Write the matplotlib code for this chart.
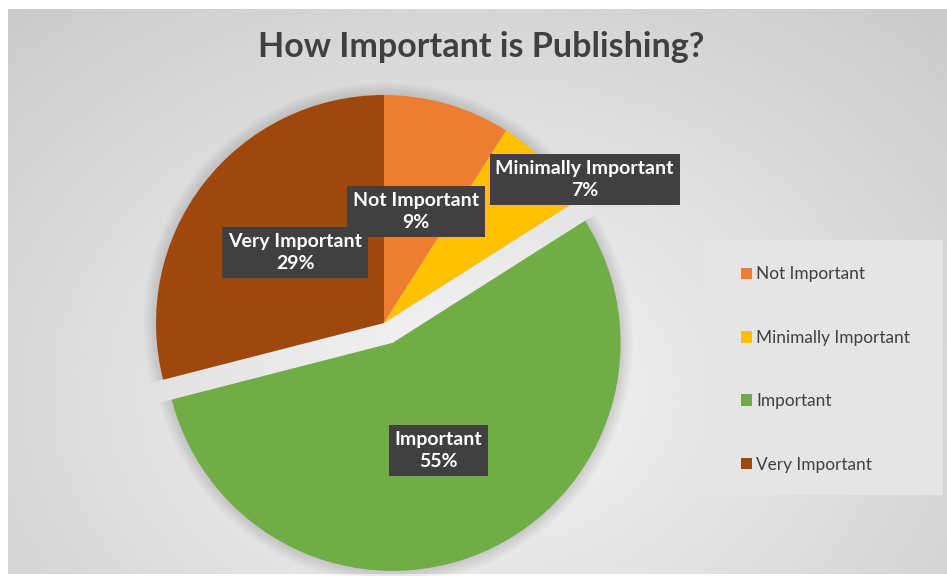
#!/usr/bin/env python3
import matplotlib.pyplot as plt
from matplotlib.patches import Rectangle, Wedge
import numpy as np

categories = ['Not Important', 'Minimally Important', 'Important', 'Very Important']
shares = [9, 7, 55, 29]
colors = ['#ED7D31', '#FFC000', '#70AD47', '#9E480E']
explode = [0, 0, 0.095, 0]

# label box centres, in pie radius units
label_pos = [(0.14, 0.49), (0.88, 0.63), (0.24, -0.56), (-0.39, 0.31)]

W, H = 947, 576
CX, CY, R = 384, 323, 228   # pie centre (from top) and radius, pixels
TEXT = '#404040'
FONT = 'Lato'


def draw_background(fig):
    """
    Fond gris en dégradé radial, avec une petite marge blanche.
    """
    ax = fig.add_axes([8 / W, 2 / H, 1 - 8 / W, 1 - 11 / H])
    ax.set_axis_off()
    yy, xx = np.mgrid[0:300, 0:500]
    dx = (xx / 499 * 939 + 8 - 470) / 620
    dy = (yy / 299 * 565 + 9 - 190) / 470
    r = np.clip(np.sqrt(dx ** 2 + dy ** 2), 0, 1.25)
    v = 0.96 - 0.15 * r
    ax.imshow(v, cmap='gray', vmin=0, vmax=1, aspect='auto',
              interpolation='bilinear', extent=(0, 1, 0, 1))
    ax.set_xlim(0, 1)
    ax.set_ylim(1, 0)


def draw_pie(fig):
    ax = fig.add_axes([0, 0, 1, 1])
    wedges, _ = ax.pie(shares, colors=colors, explode=explode, startangle=90,
                       counterclock=False, radius=1,
                       wedgeprops=dict(linewidth=0, zorder=2))
    ax.set_xlim(-CX / R, (W - CX) / R)
    ax.set_ylim(-(H - CY) / R, CY / R)
    ax.set_aspect('equal', adjustable='box')
    ax.set_axis_off()

    # soft shadow: a few faint, slightly larger copies behind each slice
    for w in wedges:
        for k in range(1, 7):
            ax.add_patch(Wedge(w.center, w.r + 0.009 * k, w.theta1, w.theta2,
                               fc='black', ec='none', alpha=0.018,
                               zorder=1, clip_on=False))

    for name, val, (x, y) in zip(categories, shares, label_pos):
        ax.text(x, y, f'{name}\n{val}%', ha='center', va='center',
                color='white', fontsize=14, fontweight='bold', family=FONT,
                linespacing=1.35, zorder=4,
                bbox=dict(boxstyle='square,pad=0.3', fc='#404040', ec='none'))
    return ax, wedges


def draw_legend(fig, ax, wedges):
    ax.add_patch(Rectangle((704 / W, 1 - 495 / H), 239 / W, 255 / H,
                           transform=fig.transFigure, clip_on=False,
                           fc='#e5e5e5', ec='none', zorder=1))
    leg = ax.legend(wedges, categories, loc='upper left',
                    bbox_to_anchor=(725 / W, 1 - 251 / H),
                    bbox_transform=fig.transFigure, frameon=False,
                    handlelength=0.65, handleheight=0.65, handletextpad=0.25,
                    labelspacing=2.75, prop=dict(family=FONT, size=12.4))
    leg.set_zorder(5)
    for t in leg.get_texts():
        t.set_color(TEXT)


def main():
    fig = plt.figure(figsize=(W / 100, H / 100), dpi=100)
    draw_background(fig)
    ax, wedges = draw_pie(fig)
    draw_legend(fig, ax, wedges)
    fig.text(481 / W, 1 - 47 / H, 'How Important is Publishing?', ha='center',
             va='center', fontsize=24.5, fontweight='bold', color=TEXT,
             family=FONT)
    fig.savefig('out.png', dpi=100, facecolor='white')
    plt.close(fig)


if __name__ == '__main__':
    main()
